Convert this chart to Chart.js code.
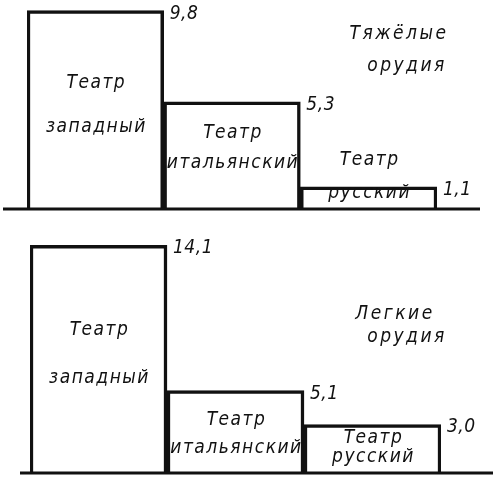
<!DOCTYPE html>
<html>
<head>
<meta charset="utf-8">
<script src="https://cdn.jsdelivr.net/npm/chart.js@4"></script>
<style>
  body { margin: 0; background: #fff; }
  .painel { position: relative; width: 500px; }
  #p1 { height: 230px; }
  #p2 { height: 247px; }
</style>
</head>
<body>
<div class="painel" id="p1"><canvas id="tyazhelye"></canvas></div>
<div class="painel" id="p2"><canvas id="legkie"></canvas></div>
<script>
// categorias e valores
const teatry = [["Театр", "западный"], ["Театр", "итальянский"], ["Театр", "русский"]];
const tyazhelye = [9.8, 5.3, 1.1];
const legkie = [14.1, 5.1, 3.0];
const podpisiTyazh = ["9,8", "5,3", "1,1"];
const podpisiLegk = ["14,1", "5,1", "3,0"];
const zagolovokTyazh = ["Тяжёлые", "орудия"];
const zagolovokLegk = ["Легкие", "орудия"];

const FONTE = '"DejaVu Sans Condensed", "Liberation Sans Narrow", sans-serif';
const TINTA = "#111";

/* --- Textos, linha de base e rótulos --- */
const textos = {
  id: "textos",
  afterDatasetsDraw(chart, args, o) {
    const ctx = chart.ctx;
    const area = chart.chartArea;
    const y = chart.scales.y;
    const barras = chart.getDatasetMeta(0).data;
    ctx.save();

    // linha de base, mais comprida que as barras
    ctx.strokeStyle = TINTA;
    ctx.lineWidth = 3;
    ctx.beginPath();
    ctx.moveTo(area.left - o.baseEsq, area.bottom);
    ctx.lineTo(area.right + o.baseDir, area.bottom);
    ctx.stroke();

    ctx.fillStyle = TINTA;
    ctx.textBaseline = "middle";
    ctx.font = "italic 19px " + FONTE;

    barras.forEach((bar, i) => {
      // nome do teatro
      ctx.textAlign = "center";
      ctx.letterSpacing = "1.5px";
      o.nomes[i].forEach((linha, j) => {
        ctx.fillText(linha, bar.x + 1, y.getPixelForValue(o.niveis[i][j]));
      });
      // valor no canto
      ctx.textAlign = "left";
      ctx.letterSpacing = "0.5px";
      ctx.fillText(o.valores[i], bar.x + bar.width / 2 + 6, bar.y + 3);
    });

    // título
    ctx.textAlign = "center";
    ctx.letterSpacing = "2.5px";
    o.titulo.forEach((linha, j) => {
      ctx.fillText(linha, o.tituloX[j], y.getPixelForValue(o.tituloNivel[j]));
    });
    ctx.restore();
  }
};

function criarGrafico(id, valores, max, padding, opcoes) {
  return new Chart(document.getElementById(id), {
    type: "bar",
    data: {
      labels: teatry.map(t => t.join(" ")),
      datasets: [{
        data: valores,
        backgroundColor: "#fff",
        borderColor: TINTA,
        borderWidth: 3.5,
        barPercentage: 1,
        categoryPercentage: 1
      }]
    },
    options: {
      responsive: true,
      maintainAspectRatio: false,
      animation: false,
      layout: { padding },
      plugins: {
        legend: { display: false },
        tooltip: { enabled: false },
        textos: opcoes
      },
      scales: {
        x: { display: false },
        y: { display: false, min: 0, max }
      }
    },
    plugins: [textos]
  });
}

/* --- Тяжёлые орудия --- */
criarGrafico("tyazhelye", tyazhelye, 9.83,
  { left: 27, right: 63, top: 10, bottom: 21 },
  {
    nomes: teatry,
    valores: podpisiTyazh,
    niveis: [[6.22, 4.05], [3.75, 2.27], [2.42, 0.79]],
    titulo: zagolovokTyazh,
    tituloX: [399, 407],
    tituloNivel: [8.64, 7.06],
    baseEsq: 24,
    baseDir: 43
  });

/* --- Лёгкие орудия --- */
criarGrafico("legkie", legkie, 14.43,
  { left: 30, right: 59, top: 10, bottom: 4 },
  {
    nomes: teatry,
    valores: podpisiLegk,
    niveis: [[8.85, 5.88], [3.28, 1.55], [2.15, 0.98]],
    titulo: zagolovokLegk,
    tituloX: [395, 407],
    tituloNivel: [9.85, 8.42],
    baseEsq: 10,
    baseDir: 52
  });
</script>
</body>
</html>
